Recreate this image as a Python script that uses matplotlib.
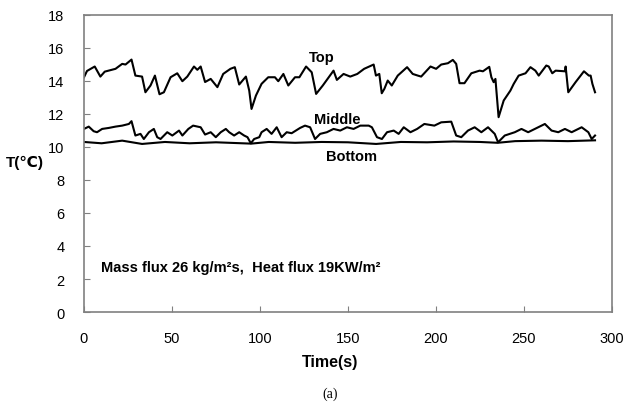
import matplotlib
matplotlib.use('Agg')
import matplotlib.pyplot as plt

plt.rcParams['font.family'] = ['Liberation Sans', 'DejaVu Sans']

# Top sensor (time in s, temperature in C)
top_t = [0, 1.7, 6.1, 9.3, 11.8, 17.9, 21.7, 23.6, 27, 29.2, 33, 34.9, 37.8, 40.3,
         42.9, 45.4, 49.2, 53, 55.9, 58.7, 62.5, 64.4, 66.3, 68.8, 72, 75.8, 79.1,
         83.2, 85.7, 88.2, 92, 93.9, 95.2, 97.7, 100.9, 104.7, 108.5, 110.4, 113.3,
         116.1, 119.9, 122.4, 126.2, 129.4, 131.9, 135.7, 141.8, 143.7, 147.5, 151.3,
         155.3, 159.2, 164.6, 165.9, 167.8, 169.2, 170.7, 172.6, 174.9, 178.3, 183.6,
         186.8, 189.7, 191.6, 196.9, 200.1, 203, 206.8, 209.6, 211.5, 213.4, 216.2,
         220.1, 224.8, 226.7, 230.3, 231.5, 232.8, 233.8, 235.6, 238.5, 242.3, 244.2,
         247, 250.9, 253.7, 256.5, 258.4, 262.7, 264.1, 266.1, 268, 273.3, 273.7,
         275.2, 279.4, 284.1, 286.9, 287.9, 288.9, 290.4]
top_T = [14.22, 14.6, 14.87, 14.26, 14.56, 14.73, 15.03, 14.99, 15.29, 14.32, 14.26,
         13.31, 13.72, 14.32, 13.19, 13.31, 14.22, 14.46, 13.98, 14.26, 14.87, 14.67,
         14.87, 13.93, 14.12, 13.62, 14.42, 14.73, 14.83, 13.78, 14.26, 13.41, 12.30,
         13.11, 13.82, 14.22, 14.22, 13.98, 14.42, 13.72, 14.22, 14.22, 14.87, 14.52,
         13.21, 13.72, 14.62, 14.06, 14.42, 14.26, 14.42, 14.73, 14.99, 14.32, 14.42,
         13.25, 13.52, 14.02, 13.72, 14.32, 14.83, 14.42, 14.32, 14.26, 14.87, 14.73,
         14.99, 15.07, 15.27, 15.03, 13.86, 13.86, 14.46, 14.62, 14.58, 14.85, 14.22,
         13.92, 14.12, 11.80, 12.81, 13.41, 13.82, 14.32, 14.46, 14.83, 14.62, 14.32,
         14.93, 14.87, 14.46, 14.62, 14.58, 14.87, 13.31, 13.93, 14.58, 14.32, 14.32,
         13.82, 13.31]

# Middle sensor
mid_t = [0, 2.7, 5.5, 7.4, 10.3, 14.1, 17.9, 21.7, 25.5, 27, 29.2, 32.1, 34, 36.9,
         39.7, 41.6, 43.5, 47.3, 50.2, 54, 55.9, 59.3, 62, 66.3, 68.8, 72, 74.9, 77.7,
         80.6, 82.5, 85.3, 88.2, 91, 92.9, 94.8, 96.7, 99.6, 100.9, 103.8, 106.6,
         109.5, 112.3, 115.2, 118, 122.8, 125.6, 128.5, 131.3, 134.2, 138, 141.8,
         145.6, 149.4, 153.2, 157, 161.8, 163.6, 166.5, 169.3, 172.2, 176, 178.8,
         181.7, 185.5, 189.3, 193.4, 199.1, 203, 208.7, 211.5, 214.4, 218.2, 222,
         225.8, 229.6, 233.4, 235.3, 239.1, 244.8, 248.6, 252.4, 258.1, 261.9, 265.7,
         269.5, 273.3, 277.1, 282.8, 286.6, 288.5, 290.4]
mid_T = [11.09, 11.23, 10.95, 10.89, 11.09, 11.15, 11.23, 11.29, 11.39, 11.56, 10.69,
         10.79, 10.48, 10.89, 11.09, 10.59, 10.48, 10.89, 10.69, 10.99, 10.69, 11.09,
         11.29, 11.19, 10.75, 10.89, 10.59, 10.89, 11.09, 10.89, 10.69, 10.89, 10.69,
         10.59, 10.22, 10.48, 10.59, 10.89, 11.09, 10.79, 11.19, 10.59, 10.89, 10.83,
         11.15, 11.29, 11.19, 10.48, 10.79, 10.89, 11.09, 10.99, 11.19, 11.09, 11.29,
         11.29, 11.19, 10.59, 10.48, 10.89, 10.99, 10.79, 11.19, 10.89, 11.09, 11.39,
         11.29, 11.49, 11.53, 10.69, 10.59, 10.99, 11.19, 10.89, 11.19, 10.79, 10.28,
         10.69, 10.89, 11.09, 10.89, 11.19, 11.39, 10.99, 10.89, 11.09, 10.89, 11.19,
         10.89, 10.48, 10.69]

# Bottom sensor
bot_t = [0, 10, 21.7, 33, 46, 60, 75, 90, 95, 105, 120, 135, 150, 166, 180, 195, 210,
         225, 235, 245, 260, 275, 290.4]
bot_T = [10.3, 10.22, 10.38, 10.18, 10.3, 10.22, 10.28, 10.22, 10.2, 10.3, 10.25,
         10.3, 10.28, 10.18, 10.3, 10.28, 10.33, 10.3, 10.25, 10.35, 10.38, 10.35, 10.4]

fig = plt.figure(figsize=(6.33, 4.06), dpi=100)
ax = fig.add_axes([0.1327, 0.229, 0.834, 0.732])

for t, T in [(top_t, top_T), (mid_t, mid_T), (bot_t, bot_T)]:
    ax.plot(t, T, color='black', linewidth=1.5)

ax.set_xlim(0, 300)
ax.set_ylim(0, 18)
ax.set_xticks(range(0, 301, 50))
ax.set_yticks(range(0, 19, 2))
ax.tick_params(direction='in', length=4, color='#808080', labelsize=10.5, pad=14)
for s in ax.spines.values():
    s.set_color('#808080')
    s.set_linewidth(1.2)

lab = dict(fontsize=10.5, fontweight='bold', ha='center', va='center')
ax.text(135, 15.45, 'Top', **lab)
ax.text(144, 11.7, 'Middle', **lab)
ax.text(152, 9.45, 'Bottom', **lab)
ax.text(9.5, 2.7, 'Mass flux 26 kg/m²s,  Heat flux 19KW/m²',
        fontsize=10.5, fontweight='bold', ha='left', va='center')

fig.text(25 / 633, 1 - 163 / 406, 'T(℃)', fontsize=11, fontweight='bold',
         ha='center', va='center')
fig.text(330 / 633, 1 - 363 / 406, 'Time(s)', fontsize=11.5, fontweight='bold',
         ha='center', va='center')
fig.text(330 / 633, 1 - 394 / 406, '(a)', fontsize=10, family='Liberation Serif',
         ha='center', va='center')

fig.savefig('out.png', dpi=100)
